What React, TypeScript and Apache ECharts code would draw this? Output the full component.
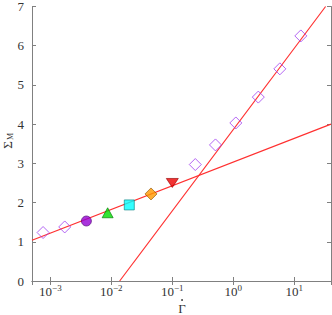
import React, { useEffect, useRef } from "react";
import * as echarts from "echarts";

// Open diamonds (purple)
const diamondX = [7.6e-4, 1.72e-3, 0.238, 0.51, 1.1, 2.57, 5.8, 12.8];
const diamondY = [1.236, 1.378, 2.97, 3.47, 4.03, 4.69, 5.41, 6.25];

// Filled markers
const circleX = [3.9e-3];
const circleY = [1.53];
const triX = [8.7e-3];
const triY = [1.74];
const squareX = [0.0197];
const squareY = [1.94];
const orangeX = [0.0447];
const orangeY = [2.22];
const downX = [0.1];
const downY = [2.5];

// Fit lines (endpoints)
const line1X = [5e-4, 40];
const line1Y = [1.04, 4.0];
const line2X = [0.0137, 32.6];
const line2Y = [0, 7];

const xTickExponents = [-3, -2, -1, 0, 1];
const yTicks = [0, 1, 2, 3, 4, 5, 6, 7];

const zip = (xs: number[], ys: number[]) => xs.map((x, i) => [x, ys[i]]);

const FONT = "Liberation Serif";
const AXIS_COLOR = "#808080";
const TEXT_COLOR = "#333";

export default function App() {
  const ref = useRef<HTMLDivElement>(null);
  useEffect(() => {
    if (!ref.current) return;
    const chart = echarts.init(ref.current, undefined, { renderer: "svg" });
    const expFmt = (v: number) => {
      const e = Math.log10(v);
      const r = Math.round(e);
      if (Math.abs(e - r) > 1e-6 || !xTickExponents.includes(r)) return "";
      const s = r < 0 ? "\u2212" + Math.abs(r) : String(r);
      return "10{sup|" + s + "}";
    };
    const axisCommon = {
      axisLine: { show: true, lineStyle: { color: AXIS_COLOR, width: 1 } },
      axisTick: { show: true, inside: true, length: 4, lineStyle: { color: AXIS_COLOR } },
      splitLine: { show: false },
    };
    chart.setOption({
      animation: false,
      grid: { left: 32, top: 5, width: 299, height: 276, containLabel: false },
      xAxis: [
        {
          type: "log",
          logBase: 10,
          min: 5e-4,
          max: 40,
          position: "bottom",
          ...axisCommon,
          minorTick: { show: false },
          axisLabel: {
            show: true,
            showMinLabel: false,
            showMaxLabel: false,
            formatter: expFmt,
            color: TEXT_COLOR,
            fontFamily: FONT,
            fontSize: 13,
            margin: 2,
            rich: {
              sup: { fontSize: 9, verticalAlign: "bottom", padding: [0, 0, 7, 0], fontFamily: FONT, color: TEXT_COLOR },
            },
          },
        },
        {
          type: "log",
          logBase: 10,
          min: 5e-4,
          max: 40,
          position: "top",
          ...axisCommon,
          axisLabel: { show: false },
        },
      ],
      yAxis: [
        {
          type: "value",
          min: 0,
          max: 7,
          interval: 1,
          position: "left",
          ...axisCommon,
          axisLabel: {
            color: TEXT_COLOR,
            fontFamily: FONT,
            fontSize: 13,
            margin: 8,
            formatter: (v: number) => (yTicks.includes(v) ? String(v) : ""),
          },
        },
        {
          type: "value",
          min: 0,
          max: 7,
          interval: 1,
          position: "right",
          ...axisCommon,
          axisLabel: { show: false },
        },
      ],
      graphic: [
        {
          type: "group",
          x: 7,
          y: 145,
          rotation: Math.PI / 2,
          children: [
            {
              type: "text",
              x: 0,
              y: 0,
              style: { text: "\u03A3", fontFamily: FONT, fontSize: 13, fill: TEXT_COLOR, align: "center", verticalAlign: "middle" },
            },
            {
              type: "text",
              x: 5,
              y: 3,
              style: { text: "M", fontFamily: FONT, fontSize: 8, fill: TEXT_COLOR, align: "left", verticalAlign: "middle" },
            },
          ],
        },
        {
          type: "text",
          x: 182,
          y: 308,
          style: {
            text: "\u0393",
            fontFamily: FONT,
            fontSize: 13,
            fill: TEXT_COLOR,
            align: "center",
            verticalAlign: "middle",
          },
        },
        {
          type: "circle",
          shape: { cx: 182, cy: 300, r: 0.9 },
          style: { fill: TEXT_COLOR },
        },
      ],
      series: [
        {
          type: "line",
          data: zip(line1X, line1Y),
          symbol: "none",
          lineStyle: { color: "#ff3030", width: 1.2 },
          z: 1,
        },
        {
          type: "line",
          data: zip(line2X, line2Y),
          symbol: "none",
          lineStyle: { color: "#ff3030", width: 1.2 },
          z: 1,
        },
        {
          type: "scatter",
          data: zip(diamondX, diamondY),
          symbol: "diamond",
          symbolSize: 12,
          itemStyle: { color: "transparent", borderColor: "#a040f0", borderWidth: 1 },
          z: 2,
        },
        {
          type: "scatter",
          data: zip(circleX, circleY),
          symbol: "circle",
          symbolSize: 10,
          itemStyle: { color: "#9400d3", borderColor: "#4b0070", borderWidth: 0.8 },
          z: 3,
        },
        {
          type: "scatter",
          data: zip(triX, triY),
          symbol: "triangle",
          symbolSize: [11, 10],
          itemStyle: { color: "#00dd00", borderColor: "#007700", borderWidth: 0.8 },
          z: 3,
        },
        {
          type: "scatter",
          data: zip(squareX, squareY),
          symbol: "rect",
          symbolSize: 10,
          itemStyle: { color: "#00ffff", borderColor: "#008080", borderWidth: 0.8 },
          z: 3,
        },
        {
          type: "scatter",
          data: zip(orangeX, orangeY),
          symbol: "diamond",
          symbolSize: 12,
          itemStyle: { color: "#ff9900", borderColor: "#905000", borderWidth: 0.8 },
          z: 3,
        },
        {
          type: "scatter",
          data: zip(downX, downY),
          symbol: "triangle",
          symbolRotate: 180,
          symbolSize: [12, 9],
          itemStyle: { color: "#ee0000", borderColor: "#990000", borderWidth: 0.8 },
          z: 3,
        },
      ],
    });
    return () => chart.dispose();
  }, []);
  return (
    <div
      ref={ref}
      style={{ position: "fixed", left: 0, top: 0, width: 332, height: 315, background: "#fff" }}
    />
  );
}
